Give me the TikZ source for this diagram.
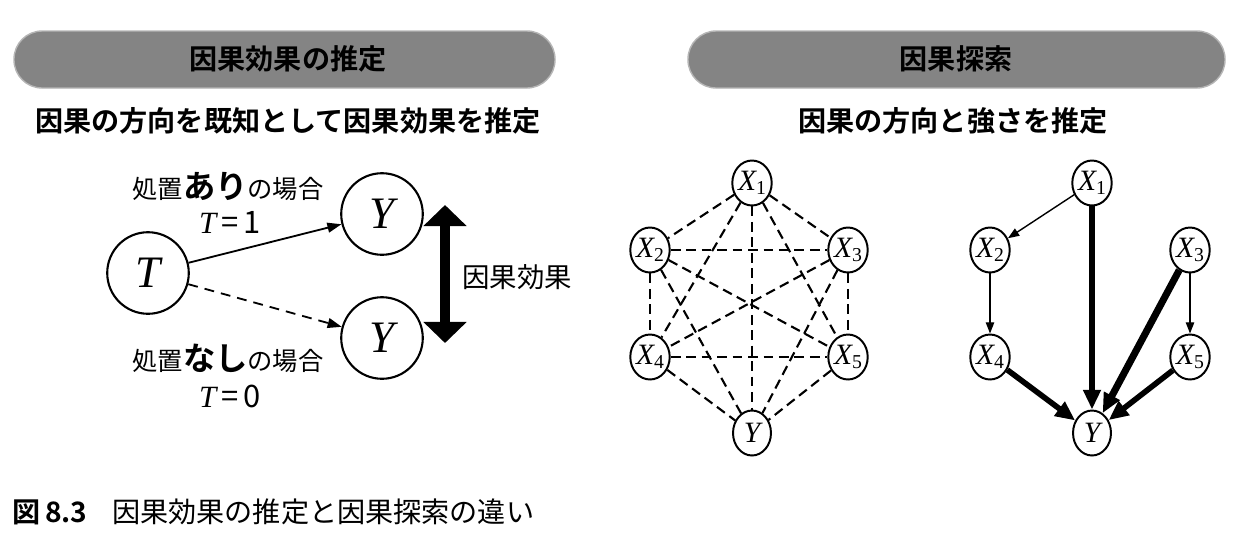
\documentclass[tikz,border=0pt]{standalone}
\usepackage{fontspec}
\usepackage{tikz}
\usetikzlibrary{shapes.geometric, arrows.meta, positioning}
\setmainfont{Noto Sans CJK JP}[BoldFont={Noto Sans CJK JP Bold}]
\newfontfamily\varfont{Liberation Serif}
\newcommand{\mvar}[1]{{\varfont\itshape #1}}
\newcommand{\xsub}[1]{\mvar{X}{\varfont\fontsize{14}{14}\selectfont\raisebox{-0.45ex}{#1}}}
\definecolor{bannergray}{RGB}{132, 132, 132}

\begin{document}
\begin{tikzpicture}[x=0.025cm, y=-0.025cm, inner sep=0pt,
  banner/.style={fill=bannergray, draw=bannergray!60, line width=1pt, rounded corners=20pt},
  heading/.style={font=\bfseries\fontsize{20}{24}\selectfont},
  label/.style={font=\fontsize{18}{22}\selectfont},
  big/.style={circle, draw, line width=1.5pt, minimum size=58pt, font=\fontsize{32}{36}\selectfont},
  var/.style={ellipse, draw, line width=1.4pt, minimum width=27pt, minimum height=32pt, font=\fontsize{21}{24}\selectfont},
  cut/.style={line width=1.5pt, dash pattern=on 7pt off 4pt},
  weak/.style={line width=1pt, -{Triangle[length=8pt, width=6pt]}},
  strong/.style={line width=4pt, -{Triangle[length=14pt, width=12pt]}}]
  \useasboundingbox (0,0) rectangle (1256,542);

  % Banners
  \filldraw[banner] (14,31) rectangle (555,88);
  \node[heading] (lefttitle) at (288,59) {因果効果の推定};
  \filldraw[banner] (688,31) rectangle (1225,88);
  \node[heading] (righttitle) at (956,59) {因果探索};

  \node[heading] (leftsub) at (288,121) {因果の方向を既知として因果効果を推定};
  \node[heading] (rightsub) at (953,121) {因果の方向と強さを推定};

  % Causal effect
  \node[big] (T) at (148,273) {\mvar{T}};
  \node[big] (Yone) at (382,214) {\mvar{Y}};
  \node[big] (Yzero) at (382,338) {\mvar{Y}};

  \draw[line width=1.3pt, -{Triangle[length=10pt, width=7pt]}] (T) -- (Yone);
  \draw[line width=1.3pt, dash pattern=on 7pt off 5pt, -{Triangle[length=10pt, width=7pt]}] (T) -- (Yzero);

  \node[label] (treat) at (228,186) {処置{\bfseries\fontsize{23}{26}\selectfont あり}の場合};
  \node[label, font=\fontsize{22}{26}\selectfont] (tone) at (230,222) {\mvar{T}\,=\,1};
  \node[label] (notreat) at (228,358) {処置{\bfseries\fontsize{23}{26}\selectfont なし}の場合};
  \node[label, font=\fontsize{22}{26}\selectfont] (tzero) at (230,396) {\mvar{T}\,=\,0};

  \coordinate (efftop) at (445,205);
  \coordinate (effbot) at (445,343);
  \draw[line width=7pt, {Triangle[length=15pt, width=30pt]}-{Triangle[length=15pt, width=30pt]}] (efftop) -- (effbot);
  \node[label, font=\fontsize{19.5}{22}\selectfont] (effect) at (517,277) {因果効果};

  % Causal discovery: all candidate edges
  \node[var] (h1) at (752,183) {\xsub{1}};
  \node[var] (h2) at (650,250) {\xsub{2}};
  \node[var] (h3) at (848,250) {\xsub{3}};
  \node[var] (h4) at (650,357) {\xsub{4}};
  \node[var] (h5) at (848,357) {\xsub{5}};
  \node[var] (hY) at (752,433) {\mvar{Y}};
  \foreach \a/\b in {1/2,1/3,1/4,1/5,1/Y,2/3,2/4,2/5,2/Y,3/4,3/5,3/Y,4/5,4/Y,5/Y} {
    \draw[cut] (h\a) -- (h\b);
  }

  % Causal discovery: estimated graph
  \node[var] (d1) at (1092,183) {\xsub{1}};
  \node[var] (d2) at (990,250) {\xsub{2}};
  \node[var] (d3) at (1190,250) {\xsub{3}};
  \node[var] (d4) at (990,357) {\xsub{4}};
  \node[var] (d5) at (1190,357) {\xsub{5}};
  \node[var] (dY) at (1092,433) {\mvar{Y}};
  \draw[weak] (d1) -- (d2);
  \draw[weak] (d2) -- (d4);
  \draw[weak] (d3) -- (d5);
  \draw[strong, line width=4.5pt] (d1) -- (dY);
  \draw[strong, line width=5pt] (d3) -- (dY);
  \draw[strong] (d4) -- (dY);
  \draw[strong] (d5) -- (dY);

  % Caption
  \node[anchor=west, font=\bfseries\fontsize{20}{24}\selectfont] (fignum) at (12,512) {図\,8.3};
  \node[anchor=west, font=\fontsize{20}{24}\selectfont] (caption) at (112,512) {因果効果の推定と因果探索の違い};
\end{tikzpicture}
\end{document}
